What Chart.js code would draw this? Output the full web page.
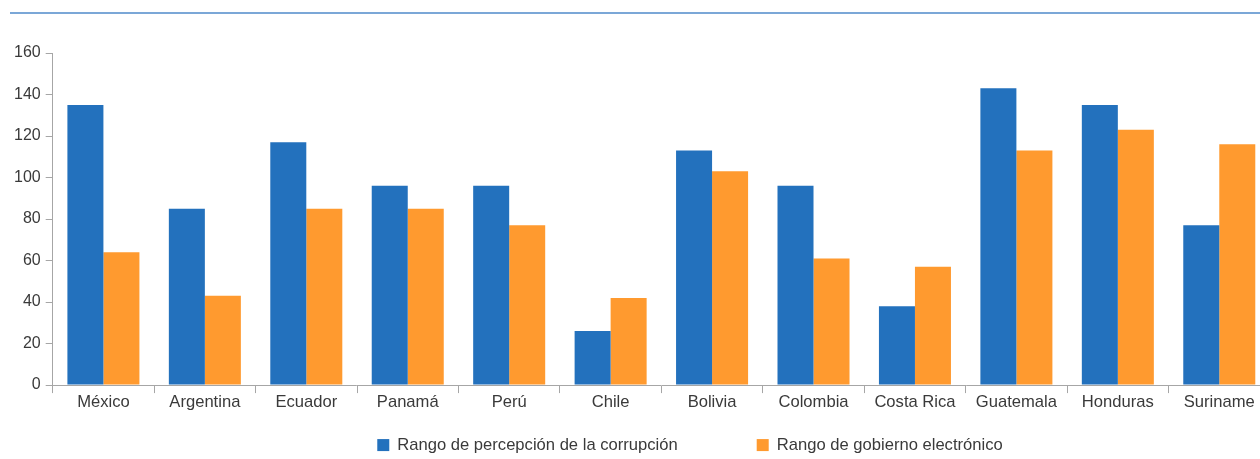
<!DOCTYPE html>
<html lang="es">
<head>
    <meta charset="UTF-8">
    <title>Rango de percepción de la corrupción vs gobierno electrónico</title>
    <script src="https://cdn.jsdelivr.net/npm/chart.js"></script>
    <style>
        html, body { margin: 0; padding: 0; background: #fff; overflow: hidden; }
        .top-rule { position: absolute; left: 10px; top: 12px; width: 1400px; height: 0; border-top: 2px solid #7ba7d7; }
        .wrap { position: absolute; left: 0; top: 0; width: 1380px; height: 459px; }
    </style>
</head>
<body>
    <div class="top-rule"></div>
    <div class="wrap">
        <canvas id="chart"></canvas>
    </div>

    <script>
        // Data
        const countries = ['México', 'Argentina', 'Ecuador', 'Panamá', 'Perú', 'Chile', 'Bolivia', 'Colombia', 'Costa Rica', 'Guatemala', 'Honduras', 'Suriname'];
        const corruptionRank = [135, 85, 117, 96, 96, 26, 113, 96, 38, 143, 135, 77];
        const eGovRank = [64, 43, 85, 85, 77, 42, 103, 61, 57, 113, 123, 116];
        const yTicks = [0, 20, 40, 60, 80, 100, 120, 140, 160];

        const axisColor = '#a6a6a6';
        const textColor = '#3a3a3a';
        const family = '"Liberation Sans", Arial, sans-serif';
        const font = { family: family, size: 16.6 };
        const yFont = { family: family, size: 16 };

        // Legend drawn below the axis, centred on the canvas, with wide spacing between items
        const bottomLegend = {
            id: 'bottomLegend',
            afterDraw(chart) {
                const ctx = chart.ctx;
                const items = chart.data.datasets.map(ds => ({ text: ds.label, color: ds.backgroundColor }));
                const box = 12, gap = 8, between = 79;
                ctx.save();
                ctx.font = font.size + 'px ' + font.family;
                const widths = items.map(it => box + gap + ctx.measureText(it.text).width);
                const total = widths.reduce((a, b) => a + b, 0) + between * (items.length - 1);
                let x = chart.width / 2 - total / 2;
                const y = chart.chartArea.bottom + 60;
                ctx.textBaseline = 'middle';
                items.forEach((it, i) => {
                    ctx.fillStyle = it.color;
                    ctx.fillRect(x, y - box / 2, box, box);
                    ctx.fillStyle = textColor;
                    ctx.fillText(it.text, x + box + gap, y);
                    x += widths[i] + between;
                });
                ctx.restore();
            }
        };

        new Chart(document.getElementById('chart').getContext('2d'), {
            type: 'bar',
            data: {
                labels: countries,
                datasets: [{
                    label: 'Rango de percepción de la corrupción',
                    data: corruptionRank,
                    backgroundColor: '#2371bd',
                    categoryPercentage: 0.71,
                    barPercentage: 1
                }, {
                    label: 'Rango de gobierno electrónico',
                    data: eGovRank,
                    backgroundColor: '#ff9a2f',
                    categoryPercentage: 0.71,
                    barPercentage: 1
                }]
            },
            options: {
                responsive: true,
                maintainAspectRatio: false,
                animation: false,
                layout: { padding: { top: 53, right: 110, left: 9, bottom: 48 } },
                plugins: {
                    tooltip: { enabled: false },
                    legend: { display: false }
                },
                scales: {
                    x: {
                        offset: true,
                        grid: { offset: true, drawOnChartArea: false, color: axisColor, tickLength: 8 },
                        border: { color: axisColor },
                        ticks: { color: textColor, font: font, padding: -1, maxRotation: 0, autoSkip: false }
                    },
                    y: {
                        min: 0,
                        max: 160,
                        afterBuildTicks: axis => { axis.ticks = yTicks.map(v => ({ value: v })); },
                        grid: { drawOnChartArea: false, color: axisColor, tickLength: 7 },
                        border: { color: axisColor },
                        ticks: { color: textColor, font: yFont, padding: 5 }
                    }
                }
            },
            plugins: [bottomLegend]
        });
    </script>
</body>
</html>
